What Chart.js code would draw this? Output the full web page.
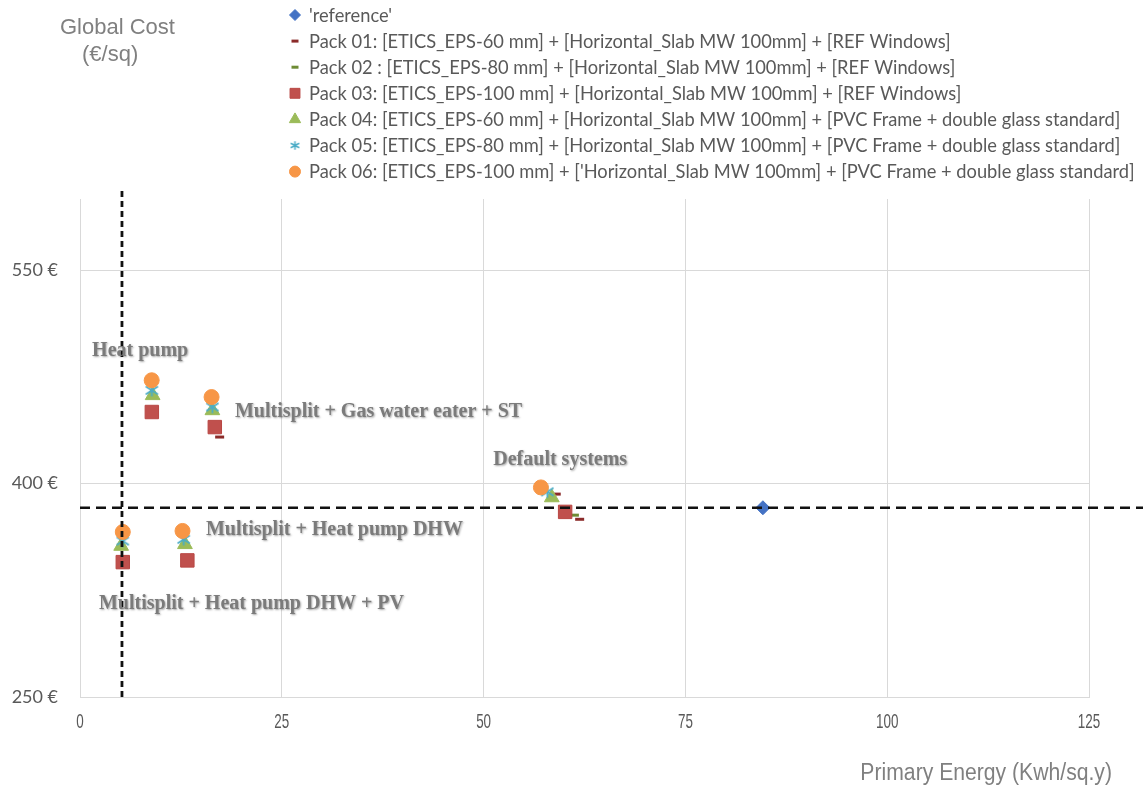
<!DOCTYPE html>
<html>
<head>
<meta charset="utf-8">
<script src="https://cdn.jsdelivr.net/npm/chart.js@4.4.1/dist/chart.umd.min.js"></script>
<style>
  html, body { margin: 0; padding: 0; background: #ffffff; }
  #wrap { position: relative; width: 1143px; height: 787px; }
</style>
</head>
<body>
<div id="wrap"><canvas id="c" width="1143" height="787"></canvas></div>
<script>
// ---- data ----
const seriesNames = [
  "'reference'",
  "Pack 01: [ETICS_EPS-60 mm] + [Horizontal_Slab MW 100mm] + [REF Windows]",
  "Pack 02 : [ETICS_EPS-80 mm] + [Horizontal_Slab MW 100mm] + [REF Windows]",
  "Pack 03: [ETICS_EPS-100 mm] + [Horizontal_Slab MW 100mm] + [REF Windows]",
  "Pack 04: [ETICS_EPS-60 mm] + [Horizontal_Slab MW 100mm] + [PVC Frame + double glass standard]",
  "Pack 05: [ETICS_EPS-80 mm] + [Horizontal_Slab MW 100mm] + [PVC Frame + double glass standard]",
  "Pack 06: [ETICS_EPS-100 mm] + ['Horizontal_Slab MW 100mm] + [PVC Frame + double glass standard]"
];

// primary energy (kWh/sq.y) and global cost (€/sq) per series
const referenceEnergy = [84.6];
const referenceCost   = [383];
const pack01Energy = [8.9, 17.3, 61.9, 59.0, 13.3, 5.3];
const pack01Cost   = [450.3, 432.7, 374.9, 392.6, 346.0, 344.8];
const pack02Energy = [8.9, 16.9, 61.25, 13.3, 5.3];
const pack02Cost   = [450.3, 437.0, 377.8, 346.0, 344.8];
const pack03Energy = [8.9, 16.7, 60.1, 13.3, 5.3];
const pack03Cost   = [450.3, 439.7, 380.1, 346.0, 344.8];
const pack04Energy = [9.0, 16.4, 58.45, 13.0, 5.1];
const pack04Cost   = [462.0, 451.4, 390.2, 357.3, 356.1];
const pack05Energy = [8.9, 16.4, 57.9, 12.85, 5.3];
const pack05Cost   = [465.5, 453.8, 394.2, 360.8, 359.6];
const pack06Energy = [8.88, 16.3, 57.1, 12.7, 5.3];
const pack06Cost   = [472.6, 460.8, 397.3, 366.7, 366.0];

// reference thresholds (dashed guide lines)
const targetEnergy = 5.2;
const targetEnergySpan = [250, 606];
const referenceCostLevel = 383;
const referenceCostSpan = [0, 131.8];

// system labels placed at (energy, cost)
const systemLabels  = ["Heat pump", "Multisplit + Gas water eater + ST", "Default systems",
                       "Multisplit + Heat pump DHW", "Multisplit + Heat pump DHW + PV"];
const systemLabelEnergy = [1.5, 19.2, 51.2, 15.6, 2.35];
const systemLabelCost   = [493.5, 450.5, 416.6, 367.2, 315.6];

const xTicks = [0, 25, 50, 75, 100, 125];
const yTicks = [250, 400, 550];

// ---- drawing ----
function pts(xs, ys) { return xs.map((x, i) => ({ x: x, y: ys[i] })); }

// asterisk-style marker (X with a vertical bar)
function starMarker(size, color, lw) {
  const cv = document.createElement('canvas');
  cv.width = size; cv.height = size;
  const g = cv.getContext('2d');
  g.strokeStyle = color; g.lineWidth = lw; g.lineCap = 'butt';
  const m = lw / 2 + 0.5;
  g.beginPath();
  g.moveTo(m, m + 2); g.lineTo(size - m, size - m - 2);
  g.moveTo(size - m, m + 2); g.lineTo(m, size - m - 2);
  g.moveTo(size / 2, m); g.lineTo(size / 2, size - m);
  g.stroke();
  return cv;
}
const starBig = starMarker(15, '#4bacc6', 1.8);
const starSmall = starMarker(11, '#4bacc6', 1.5);

const styles = [
  { pointStyle: 'rectRot', radius: 7, bg: '#4472c4', border: '#4472c4', bw: 1, lRadius: 5.5 },
  { pointStyle: 'line', radius: 4.5, bg: '#8b2b2a', border: '#8b2b2a', bw: 3, lRadius: 3.5 },
  { pointStyle: 'line', radius: 4.5, bg: '#6e8c35', border: '#6e8c35', bw: 3, lRadius: 3.5 },
  { pointStyle: 'rect', radius: 9.5, bg: '#c0504d', border: '#b94744', bw: 1, lRadius: 7 },
  { pointStyle: 'triangle', radius: 8.5, bg: '#9bbb59', border: '#9bbb59', bw: 1, lRadius: 6.5 },
  { pointStyle: starBig, radius: 7, bg: '#4bacc6', border: '#4bacc6', bw: 0, lStyle: starSmall, lRadius: 5 },
  { pointStyle: 'circle', radius: 7.5, bg: '#f79646', border: '#f79646', bw: 1, lRadius: 5.5 }
];

const seriesData = [
  pts(referenceEnergy, referenceCost),
  pts(pack01Energy, pack01Cost),
  pts(pack02Energy, pack02Cost),
  pts(pack03Energy, pack03Cost),
  pts(pack04Energy, pack04Cost),
  pts(pack05Energy, pack05Cost),
  pts(pack06Energy, pack06Cost)
];
// later packs sit on top of earlier ones
const drawOrder = [6, 5, 4, 3, 2, 1, 0];

const datasets = seriesData.map((d, i) => ({
  label: seriesNames[i],
  data: d,
  order: drawOrder[i] + 1,
  pointStyle: styles[i].pointStyle,
  pointRadius: styles[i].radius,
  pointHoverRadius: styles[i].radius,
  pointBackgroundColor: styles[i].bg,
  pointBorderColor: styles[i].border,
  pointBorderWidth: styles[i].bw,
  backgroundColor: styles[i].bg,
  borderColor: styles[i].border,
  showLine: false
}));

datasets.push({
  label: 'energy threshold',
  data: [{ x: targetEnergy, y: targetEnergySpan[0] }, { x: targetEnergy, y: targetEnergySpan[1] }],
  showLine: true, borderColor: '#111', borderWidth: 2.8, borderDash: [6, 4],
  pointRadius: 0, clip: false, order: 0
});
datasets.push({
  label: 'reference cost',
  data: [{ x: referenceCostSpan[0], y: referenceCostLevel }, { x: referenceCostSpan[1], y: referenceCostLevel }],
  showLine: true, borderColor: '#111', borderWidth: 2.6, borderDash: [10, 6],
  pointRadius: 0, clip: false, order: 0
});

// text in a condensed face: regular font squeezed horizontally
function condensedText(ctx, text, x, y, squeeze) {
  ctx.save();
  ctx.translate(x, y);
  ctx.scale(squeeze, 1);
  ctx.fillText(text, 0, 0);
  ctx.restore();
}

const overlay = {
  id: 'overlay',
  afterDraw(chart) {
    const ctx = chart.ctx;
    const xs = chart.scales.x, ys = chart.scales.y;
    ctx.save();

    // axis titles
    ctx.fillStyle = '#808080';
    ctx.font = '22px "Liberation Sans", Arial, sans-serif';
    ctx.textBaseline = 'middle';
    ctx.textAlign = 'left';
    ctx.fillText('Global Cost', 60, 28);
    ctx.fillText('(€/sq)', 82, 55);

    ctx.font = '23px "Liberation Sans", Arial, sans-serif';
    ctx.textAlign = 'right';
    condensedText(ctx, 'Primary Energy (Kwh/sq.y)', 1112, 774, 0.92);

    // x tick labels
    ctx.fillStyle = '#595959';
    ctx.textAlign = 'center';
    ctx.font = '21px "Liberation Sans", Arial, sans-serif';
    xs.ticks.forEach(t => {
      condensedText(ctx, String(t.value), xs.getPixelForValue(t.value), 722, 0.64);
    });

    // legend
    ctx.textAlign = 'left';
    ctx.font = '15px Lato, "Noto Sans", sans-serif';
    const longest = Math.max(...seriesNames.map(n => ctx.measureText(n).width));
    const legendSize = 15 * 826 / longest;
    ctx.font = legendSize.toFixed(2) + 'px Lato, "Noto Sans", sans-serif';
    for (let i = 0; i < seriesNames.length; i++) {
      const y = 15 + i * 26.1;
      const s = styles[i];
      ctx.fillStyle = s.bg;
      ctx.strokeStyle = s.border;
      ctx.lineWidth = s.bw;
      Chart.helpers.drawPoint(ctx, {
        pointStyle: s.lStyle || s.pointStyle, radius: s.lRadius,
        borderWidth: s.bw, rotation: 0
      }, 295, y);
      ctx.fillStyle = '#595959';
      ctx.fillText(seriesNames[i], 309, y + 1);
    }

    // system labels
    ctx.font = 'bold 20px "Liberation Serif", "Times New Roman", serif';
    ctx.fillStyle = '#7b7b7b';
    ctx.shadowColor = 'rgba(0,0,0,0.35)';
    ctx.shadowBlur = 2;
    ctx.shadowOffsetX = 1;
    ctx.shadowOffsetY = 1;
    for (let i = 0; i < systemLabels.length; i++) {
      ctx.fillText(systemLabels[i], xs.getPixelForValue(systemLabelEnergy[i]),
                   ys.getPixelForValue(systemLabelCost[i]));
    }
    ctx.restore();
  }
};

new Chart(document.getElementById('c'), {
  type: 'scatter',
  data: { datasets: datasets },
  options: {
    responsive: false,
    animation: false,
    events: [],
    layout: { padding: { left: 0, top: 199, right: 54, bottom: 0 } },
    plugins: { legend: { display: false }, tooltip: { enabled: false } },
    scales: {
      x: {
        type: 'linear', min: 0, max: 125,
        afterBuildTicks(scale) { scale.ticks = xTicks.map(v => ({ value: v })); },
        afterFit(scale) { scale.height = 90; },
        grid: { color: '#d9d9d9', lineWidth: 1, drawTicks: false },
        border: { color: '#d9d9d9', width: 1 },
        ticks: { display: false }
      },
      y: {
        type: 'linear', min: 250, max: 600,
        afterBuildTicks(scale) { scale.ticks = yTicks.map(v => ({ value: v })); },
        afterFit(scale) { scale.width = 80; },
        grid: { color: '#d9d9d9', lineWidth: 1, drawTicks: false },
        border: { color: '#d9d9d9', width: 1 },
        ticks: {
          padding: 22, color: '#595959',
          font: { family: 'Lato, "Noto Sans", sans-serif', size: 18 },
          callback: v => v + ' €'
        }
      }
    }
  },
  plugins: [overlay]
});
</script>
</body>
</html>
